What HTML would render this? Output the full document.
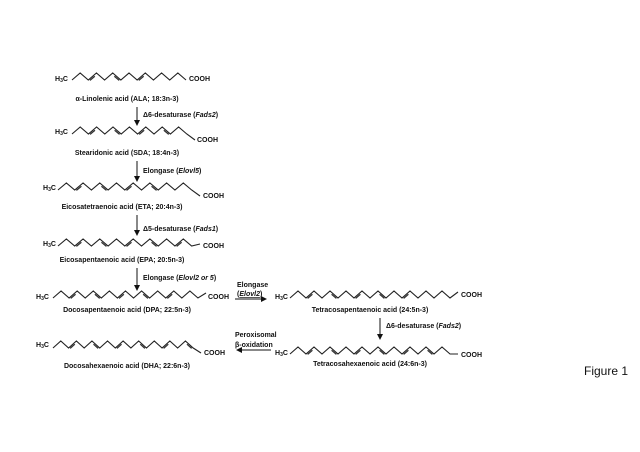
<!DOCTYPE html>
<html><head><meta charset="utf-8"><style>
html,body{margin:0;padding:0;background:#fff;}
svg{display:block;font-family:"Liberation Sans",sans-serif;}
text{font-size:7px;font-weight:bold;fill:#111;}
</style></head><body>
<svg id="s" width="640" height="452" viewBox="0 0 640 452" xmlns="http://www.w3.org/2000/svg">
<defs><marker id="a" markerWidth="6" markerHeight="6" refX="5" refY="3" orient="auto"><path d="M0,0L6,3L0,6z" fill="#111"/></marker></defs>
<g id="chains" fill="none" stroke="#222" stroke-width="1.1"></g>
<text x="55" y="81">H<tspan font-size="5" dy="1">3</tspan><tspan dy="-1">C</tspan></text>
<text x="189" y="81">COOH</text>
<text x="127" y="101" text-anchor="middle">α-Linolenic acid (ALA; 18:3n-3)</text>
<line x1="137" y1="107" x2="137" y2="125" stroke="#111" stroke-width="1" marker-end="url(#a)"/>
<text x="143" y="117">Δ6-desaturase (<tspan font-style="italic">Fads2</tspan>)</text>
<text x="55" y="134">H<tspan font-size="5" dy="1">3</tspan><tspan dy="-1">C</tspan></text>
<text x="197" y="142">COOH</text>
<text x="127" y="155" text-anchor="middle">Stearidonic acid (SDA; 18:4n-3)</text>
<line x1="137" y1="161" x2="137" y2="181" stroke="#111" stroke-width="1" marker-end="url(#a)"/>
<text x="143" y="173">Elongase (<tspan font-style="italic">Elovl5</tspan>)</text>
<text x="43" y="190">H<tspan font-size="5" dy="1">3</tspan><tspan dy="-1">C</tspan></text>
<text x="203" y="198">COOH</text>
<text x="122" y="209" text-anchor="middle">Eicosatetraenoic acid (ETA; 20:4n-3)</text>
<line x1="137" y1="215" x2="137" y2="235" stroke="#111" stroke-width="1" marker-end="url(#a)"/>
<text x="143" y="231">Δ5-desaturase (<tspan font-style="italic">Fads1</tspan>)</text>
<text x="43" y="246">H<tspan font-size="5" dy="1">3</tspan><tspan dy="-1">C</tspan></text>
<text x="203" y="248">COOH</text>
<text x="122" y="262" text-anchor="middle">Eicosapentaenoic acid (EPA; 20:5n-3)</text>
<line x1="137" y1="268" x2="137" y2="290" stroke="#111" stroke-width="1" marker-end="url(#a)"/>
<text x="143" y="280">Elongase (<tspan font-style="italic">Elovl2 or 5</tspan>)</text>
<text x="36" y="299">H<tspan font-size="5" dy="1">3</tspan><tspan dy="-1">C</tspan></text>
<text x="208" y="299">COOH</text>
<text x="127" y="312" text-anchor="middle">Docosapentaenoic acid (DPA; 22:5n-3)</text>
<text x="237" y="287">Elongase</text>
<text x="237" y="296">(<tspan font-style="italic" text-decoration="underline">Elovl2</tspan>)</text>
<line x1="235" y1="299" x2="266" y2="299" stroke="#111" stroke-width="1" marker-end="url(#a)"/>
<text x="275" y="299">H<tspan font-size="5" dy="1">3</tspan><tspan dy="-1">C</tspan></text>
<text x="461" y="297">COOH</text>
<text x="370" y="312" text-anchor="middle">Tetracosapentaenoic acid (24:5n-3)</text>
<line x1="380" y1="318" x2="380" y2="339" stroke="#111" stroke-width="1" marker-end="url(#a)"/>
<text x="386" y="328">Δ6-desaturase (<tspan font-style="italic">Fads2</tspan>)</text>
<text x="275" y="355">H<tspan font-size="5" dy="1">3</tspan><tspan dy="-1">C</tspan></text>
<text x="461" y="357">COOH</text>
<text x="370" y="366" text-anchor="middle">Tetracosahexaenoic acid (24:6n-3)</text>
<text x="235" y="337">Peroxisomal</text>
<text x="235" y="347">β-oxidation</text>
<line x1="271" y1="350" x2="237" y2="350" stroke="#111" stroke-width="1" marker-end="url(#a)"/>
<text x="36" y="347">H<tspan font-size="5" dy="1">3</tspan><tspan dy="-1">C</tspan></text>
<text x="204" y="355">COOH</text>
<text x="127" y="368" text-anchor="middle">Docosahexaenoic acid (DHA; 22:6n-3)</text>
<text x="584" y="375" style="font-size:12px;font-weight:normal">Figure 1</text>
</svg>
<script>
var g=document.getElementById('chains'),NS='http://www.w3.org/2000/svg';
function chain(x0,x1,yT,yB,n,dbl,lastY){
  var dx=(x1-x0)/n,pts=[];
  for(var i=0;i<=n;i++){pts.push([x0+i*dx,(i%2==0)?yT:yB]);}
  if(lastY!==undefined)pts[n][1]=lastY;
  var p=document.createElementNS(NS,'polyline');
  p.setAttribute('points',pts.map(function(q){return q.join(',')}).join(' '));
  g.appendChild(p);
  dbl.forEach(function(k){
    var a=pts[k],b=pts[k+1],t=0.2;
    var l=document.createElementNS(NS,'line');
    l.setAttribute('x1',a[0]+(b[0]-a[0])*t);l.setAttribute('y1',a[1]+(b[1]-a[1])*t+1.8);
    l.setAttribute('x2',b[0]-(b[0]-a[0])*t);l.setAttribute('y2',b[1]-(b[1]-a[1])*t+1.8);
    l.setAttribute('stroke-width','1.3');l.setAttribute('stroke','#333');
    g.appendChild(l);
  });
}
chain(72,186,80,73,14,[2,5,8]);
chain(72,195,134,127,15,[2,5,8,11],140);
chain(58,200,190,183,17,[2,5,8,11],196);
chain(58,200,246,239,17,[2,5,8,11,14],244);
chain(53,206,298,291,19,[2,5,8,11,14],293);
chain(290,458,298,291,21,[2,5,8,11,14],292);
chain(290,458,354,347,21,[2,5,8,11,14,17],354);
chain(53,201,348,341,19,[2,5,8,11,14,17],353);
</script>
</body></html>
